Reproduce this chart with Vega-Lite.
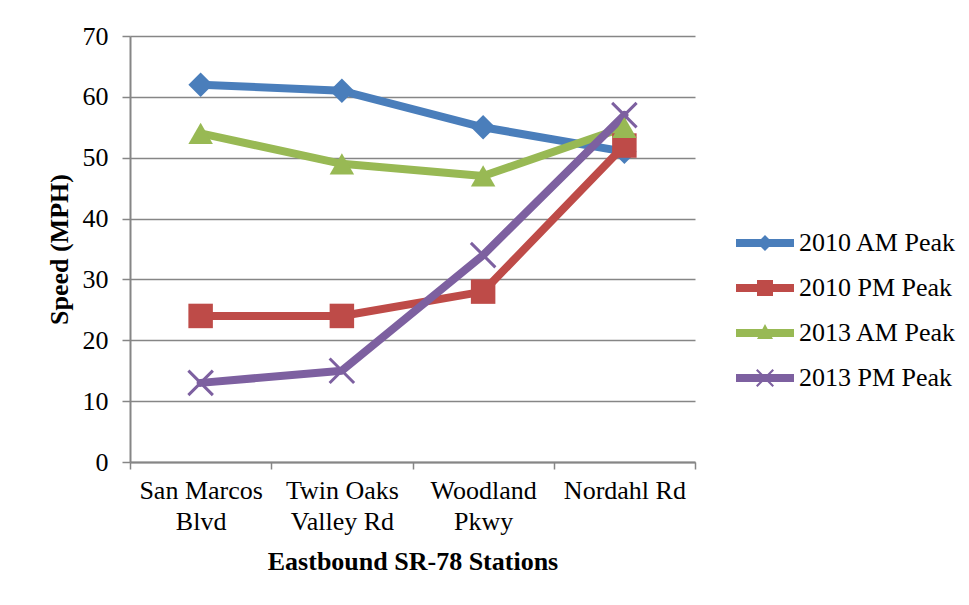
{
  "$schema": "https://vega.github.io/schema/vega-lite/v6.json",
  "width": 565,
  "height": 426,
  "autosize": {"type": "none"},
  "padding": {"left": 130, "top": 36, "right": 274, "bottom": 143},
  "background": "white",
  "config": {
    "font": "'Liberation Serif', 'Times New Roman', Times, serif",
    "view": {"stroke": null},
    "axis": {"labelFont": "'Liberation Serif', 'Times New Roman', Times, serif", "titleFont": "'Liberation Serif', 'Times New Roman', Times, serif"},
    "legend": {"labelFont": "'Liberation Serif', 'Times New Roman', Times, serif", "titleFont": "'Liberation Serif', 'Times New Roman', Times, serif"}
  },
  "data": {
    "values": [
      {"station": "San Marcos Blvd", "series": "2010 AM Peak", "speed": 62},
      {"station": "Twin Oaks Valley Rd", "series": "2010 AM Peak", "speed": 61},
      {"station": "Woodland Pkwy", "series": "2010 AM Peak", "speed": 55},
      {"station": "Nordahl Rd", "series": "2010 AM Peak", "speed": 51},
      {"station": "San Marcos Blvd", "series": "2010 PM Peak", "speed": 24},
      {"station": "Twin Oaks Valley Rd", "series": "2010 PM Peak", "speed": 24},
      {"station": "Woodland Pkwy", "series": "2010 PM Peak", "speed": 28},
      {"station": "Nordahl Rd", "series": "2010 PM Peak", "speed": 52},
      {"station": "San Marcos Blvd", "series": "2013 AM Peak", "speed": 54},
      {"station": "Twin Oaks Valley Rd", "series": "2013 AM Peak", "speed": 49},
      {"station": "Woodland Pkwy", "series": "2013 AM Peak", "speed": 47},
      {"station": "Nordahl Rd", "series": "2013 AM Peak", "speed": 55},
      {"station": "San Marcos Blvd", "series": "2013 PM Peak", "speed": 13},
      {"station": "Twin Oaks Valley Rd", "series": "2013 PM Peak", "speed": 15},
      {"station": "Woodland Pkwy", "series": "2013 PM Peak", "speed": 34},
      {"station": "Nordahl Rd", "series": "2013 PM Peak", "speed": 57}
    ]
  },
  "encoding": {
    "x": {
      "field": "station",
      "type": "nominal",
      "sort": ["San Marcos Blvd", "Twin Oaks Valley Rd", "Woodland Pkwy", "Nordahl Rd"],
      "scale": {"type": "band", "paddingInner": 0, "paddingOuter": 0},
      "bandPosition": 0.5,
      "axis": {
        "title": "Eastbound SR-78 Stations",
        "tickBand": "extent",
        "labelAngle": 0,
        "labelExpr": "datum.value === 'San Marcos Blvd' ? ['San Marcos', 'Blvd'] : datum.value === 'Twin Oaks Valley Rd' ? ['Twin Oaks', 'Valley Rd'] : datum.value === 'Woodland Pkwy' ? ['Woodland', 'Pkwy'] : datum.value",
        "labelFontSize": 26,
        "labelLineHeight": 31,
        "labelPadding": 8,
        "labelColor": "black",
        "labelLimit": 300,
        "tickSize": 7,
        "tickColor": "#868686",
        "tickWidth": 1.5,
        "domainColor": "#868686",
        "domainWidth": 2,
        "grid": false,
        "titleFontSize": 26,
        "titleFontWeight": "bold",
        "titleColor": "black",
        "titlePadding": 14
      }
    },
    "y": {
      "field": "speed",
      "type": "quantitative",
      "scale": {"domain": [0, 70], "nice": false},
      "axis": {
        "title": "Speed (MPH)",
        "values": [0, 10, 20, 30, 40, 50, 60, 70],
        "grid": true,
        "gridColor": "#868686",
        "gridWidth": 1.5,
        "tickSize": 8,
        "tickColor": "#868686",
        "tickWidth": 1.5,
        "domainColor": "#868686",
        "domainWidth": 2,
        "labelFontSize": 26,
        "labelColor": "black",
        "labelPadding": 14,
        "titleFontSize": 26,
        "titleFontWeight": "bold",
        "titleColor": "black",
        "titlePadding": 10
      }
    }
  },
  "layer": [
    {
      "mark": {"type": "line", "strokeWidth": 8, "strokeCap": "round", "strokeJoin": "round"},
      "encoding": {
        "color": {
          "field": "series",
          "type": "nominal",
          "scale": {
            "domain": ["2010 AM Peak", "2010 PM Peak", "2013 AM Peak", "2013 PM Peak"],
            "range": ["#4A7EBB", "#BE4B48", "#98B954", "#7D60A0"]
          },
          "legend": {
            "title": null,
            "orient": "none",
            "legendX": 622,
            "legendY": 194,
            "padding": 0,
            "labelFontSize": 26,
            "labelColor": "black",
            "labelLimit": 300,
            "symbolSize": 400,
            "labelOffset": 21,
            "rowPadding": 19,
            "encode": {
              "symbols": {
                "update": {
                  "shape": {"signal": "datum.value === '2010 AM Peak' ? 'M-2.9,-0.4H2.9V0.4H-2.9Z M0,-0.8L0.8,0L0,0.8L-0.8,0Z' : datum.value === '2010 PM Peak' ? 'M-2.9,-0.4H2.9V0.4H-2.9Z M-0.8,-0.8H0.8V0.8H-0.8Z' : datum.value === '2013 AM Peak' ? 'M-2.9,-0.4H2.9V0.4H-2.9Z M0,-0.9L0.8,0.6H-0.8Z' : 'M-2.9,-0.4H2.9V0.4H-2.9Z M-0.75,-0.9L0.9,0.75L0.75,0.9L-0.9,-0.75Z M0.75,-0.9L0.9,-0.75L-0.75,0.9L-0.9,0.75Z'"},
                  "fill": {"signal": "scale('color', datum.value)"},
                  "stroke": {"value": "transparent"},
                  "strokeWidth": {"value": 0},
                  "opacity": {"value": 1}
                }
              }
            }
          }
        }
      }
    },
    {
      "transform": [{"filter": "datum.series !== '2013 PM Peak'"}],
      "mark": {"type": "point", "filled": true, "opacity": 1, "size": 600},
      "encoding": {
        "color": {"field": "series", "type": "nominal"},
        "shape": {
          "field": "series",
          "type": "nominal",
          "scale": {
            "domain": ["2010 AM Peak", "2010 PM Peak", "2013 AM Peak"],
            "range": ["diamond", "square", "triangle-up"]
          },
          "legend": null
        }
      }
    },
    {
      "transform": [{"filter": "datum.series === '2013 PM Peak'"}],
      "mark": {"type": "point", "filled": false, "opacity": 1, "size": 600, "strokeWidth": 3, "shape": "M-1,-1L1,1M-1,1L1,-1"},
      "encoding": {
        "color": {"field": "series", "type": "nominal"}
      }
    }
  ]
}
